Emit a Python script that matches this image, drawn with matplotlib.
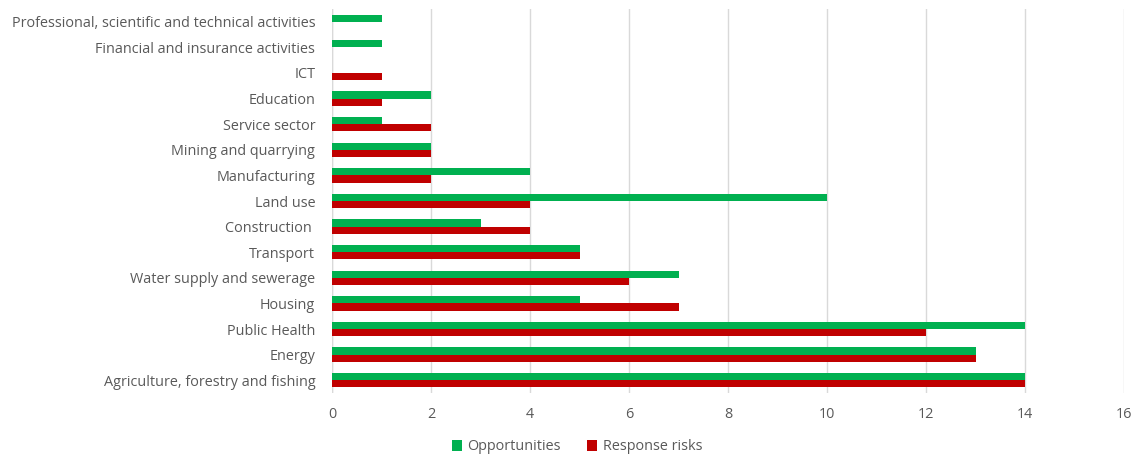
import matplotlib
matplotlib.use("Agg")
import matplotlib.pyplot as plt
import numpy as np

categories = [
    "Professional, scientific and technical activities",
    "Financial and insurance activities",
    "ICT",
    "Education",
    "Service sector",
    "Mining and quarrying",
    "Manufacturing",
    "Land use",
    "Construction ",
    "Transport",
    "Water supply and sewerage",
    "Housing",
    "Public Health",
    "Energy",
    "Agriculture, forestry and fishing",
]
opportunities = [1, 1, 0, 2, 1, 2, 4, 10, 3, 5, 7, 5, 14, 13, 14]
response_risks = [0, 0, 1, 1, 2, 2, 2, 4, 4, 5, 6, 7, 12, 13, 14]
xticks = [0, 2, 4, 6, 8, 10, 12, 14, 16]

plt.rcParams['font.family'] = ['Open Sans', 'DejaVu Sans']
txt = '#595959'

fig = plt.figure(figsize=(11.34, 4.55), dpi=100)
ax = fig.add_axes([332/1134, 1 - 393/455, (1124-332)/1134, 384/455])

y = np.arange(len(categories))
h = 0.28
ax.barh(y - h/2, opportunities, height=h, color='#00B050', label='Opportunities', zorder=3)
ax.barh(y + h/2, response_risks, height=h, color='#C00000', label='Response risks', zorder=3)

ax.set_ylim(len(categories) - 0.5, -0.5)
ax.set_xlim(0, 16)
ax.set_xticks(xticks)
ax.set_yticks(y)
ax.set_yticklabels(categories)
ax.tick_params(axis='both', length=0, labelsize=10.4, colors=txt)
ax.tick_params(axis='x', pad=10)
ax.tick_params(axis='y', pad=12)
ax.grid(axis='x', color='#D9D9D9', linewidth=1, zorder=0)
for s in ['top', 'right', 'left', 'bottom']:
    ax.spines[s].set_visible(False)
ax.axvline(0, color='#D9D9D9', linewidth=1, zorder=1)

leg = fig.legend(loc='center', bbox_to_anchor=(577/1134, 1 - 447/455), ncol=2, frameon=False,
                 fontsize=10.4, handlelength=0.7, handleheight=0.7, columnspacing=1.8, handletextpad=0.4)
for t in leg.get_texts():
    t.set_color(txt)

fig.savefig('out.png', dpi=100)
